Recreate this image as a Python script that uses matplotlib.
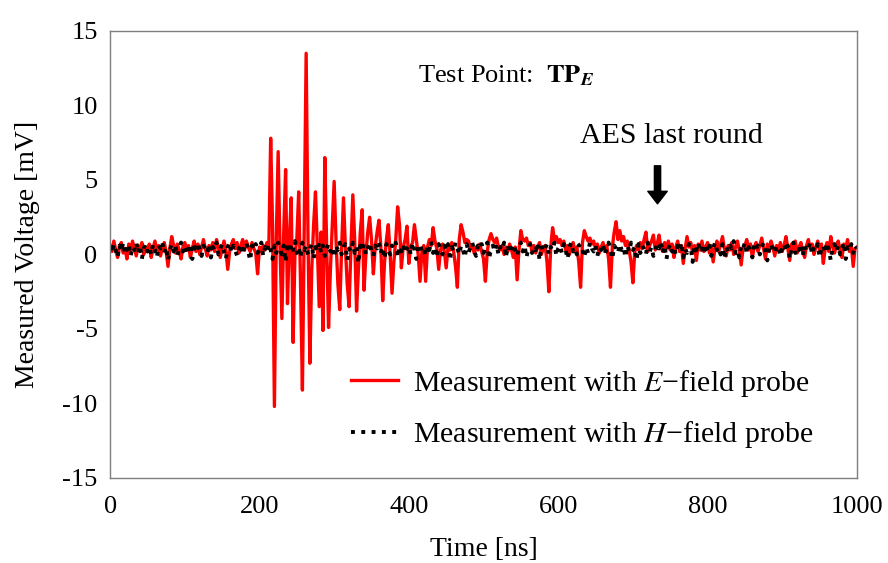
import numpy as np
import matplotlib
matplotlib.use("Agg")
import matplotlib.pyplot as plt

plt.rcParams['font.family'] = ['Liberation Serif', 'DejaVu Serif']
plt.rcParams['mathtext.fontset'] = 'stix'
plt.rcParams['axes.unicode_minus'] = False

# time axis [ns], one sample every 2.5 ns
t_ns = np.arange(0, 1000.01, 2.5)

# E-field probe (20 samples per row = 50 ns)
e_probe = [
    0.6, 0.2, 0.9, 0.3, -0.2, 0.5, 0.8, 0.1, 0.4, -0.3, 0.7, 0.2, 0.9, 0.4, -0.1, 0.6, 0.3, 0.8, 0.0, 0.5,
    0.2, 0.7, -0.2, 0.4, 0.9, 0.3, 0.6, -0.1, 0.5, 0.8, 0.2, -0.8, 0.4, 1.2, 0.6, 0.1, 0.7, 0.3, -0.3, 0.5,
    0.8, 0.3, 0.6, -0.2, 0.4, 0.9, 0.2, 0.7, 0.0, 0.5, 1.0, 0.4, -0.1, 0.6, 0.3, 0.8, 0.2, 1.0, 0.5, -0.2,
    0.4, 0.9, 0.3, -1.0, 0.2, 0.7, 1.0, 0.4, 0.8, 0.1, 0.6, 1.0, 0.3, 0.9, 0.5, 0.2, 0.8, 0.4, 0.1, -1.3,
    0.5, 0.2, 0.6, 0.3, 0.8, 0.4, 7.8, 2.0, -10.2, 1.0, 6.9, 0.5, -4.3, 1.5, 5.7, -3.3, 1.0, 3.8, -5.9, 0.0,
    1.0, 4.2, -2.0, -9.1, 2.0, 13.5, 1.0, -7.3, -1.0, 2.0, 4.2, 0.5, -3.5, 1.5, -5.1, 6.5, 0.5, -4.9, -1.0, 2.0,
    4.9, 1.0, -2.0, -3.7, 0.5, 3.8, 0.5, -2.0, -3.5, 0.5, 4.0, 1.0, -3.8, -1.0, 1.5, 3.0, -2.4, 0.0, 1.5, 2.5,
    1.0, -1.3, 0.5, 1.5, 2.3, 0.5, -3.1, -0.5, 1.0, 2.0, 0.0, -2.6, -0.5, 1.0, 3.2, 2.0, -0.9, 0.5, 1.0, 1.9,
    -0.6, 0.5, 0.8, 2.0, 1.0, 0.0, -1.8, 0.2, 0.6, -1.8, 0.5, 1.0, 0.6, 1.8, 0.9, 0.4, -1.0, 0.3, 0.7, 0.2,
    -0.9, 0.5, 0.3, 0.8, 0.2, -0.8, -2.2, 1.0, 2.0, 1.5, 0.8, 1.0, 0.9, 0.4, 0.6, 0.1, 0.5, 0.3, 0.7, 0.2,
    -0.3, -1.8, 0.2, 1.0, 1.4, 1.0, 0.8, 1.1, 0.5, 0.3, 0.6, 0.0, 0.5, 0.2, 0.7, 0.3, -0.2, 0.5, -1.7, 0.3,
    1.6, 1.0, 0.9, 1.1, 0.6, 0.8, 0.2, 0.6, 0.1, 0.5, 0.8, 0.0, 0.4, 0.6, -0.5, -2.5, 0.5, 1.8, 1.0, 1.2,
    0.8, 1.0, 0.6, 0.9, 0.3, 0.6, 0.0, 0.5, 0.8, 0.2, 0.5, -0.5, -2.2, 0.8, 1.6, 1.2, 0.9, 1.1, 0.7, 0.9,
    0.4, 0.7, 0.1, 0.5, 0.8, 0.2, 0.6, -0.3, -2.2, 0.5, 1.5, 2.2, 1.0, 1.6, 0.9, 1.2, 0.6, 0.9, 0.3, -0.5,
    -1.9, 0.2, 0.6, 0.3, 0.8, 0.4, 1.0, 1.5, 0.2, 0.6, 0.9, 1.3, 0.3, 0.7, 1.3, 0.5, 0.2, 0.8, 0.4, 0.9,
    0.3, 0.7, -0.2, 0.5, 0.9, 0.2, 0.6, -0.6, 0.4, 1.2, 0.5, 0.8, 0.1, 0.6, -0.4, 0.7, 0.3, 0.9, 0.2, 0.5,
    0.8, 0.1, 0.6, -0.5, 0.4, 0.9, 0.2, 0.7, 1.2, 0.4, -0.1, 0.6, 0.3, 0.8, 0.0, 0.5, 0.9, 0.3, -0.7, 0.4,
    0.6, 1.0, 0.3, 0.7, -0.2, 0.5, 0.8, 0.2, 0.6, 1.1, 0.4, -0.3, 0.7, 0.2, 0.9, 0.5, -0.1, 0.6, 0.3, 0.8,
    0.2, 0.6, 1.2, 0.4, -0.4, 0.7, 0.3, 0.9, 0.1, 0.5, 0.8, 0.2, -0.2, 0.6, 1.0, 0.4, 0.7, 0.0, 0.5, 0.9,
    0.3, 0.7, -0.6, 0.4, 0.8, 0.2, 1.2, 0.5, 0.1, 0.6, 0.9, 0.3, -0.2, 0.7, 0.4, 1.0, 0.2, 0.6, -0.8, 0.4,
    0.5,
]

# H-field probe
h_probe = [
    0.5, 0.1, 0.7, 0.3, -0.2, 0.6, 0.2, 0.8, 0.0, 0.4, 0.7, -0.1, 0.5, 0.3, 0.8, 0.1, 0.6, -0.3, 0.4, 0.7,
    0.2, 0.5, 0.0, 0.7, 0.3, -0.2, 0.6, 0.4, 0.8, 0.1, 0.5, -0.4, 0.3, 0.7, 0.2, 0.6, -0.1, 0.4, 0.8, 0.2,
    0.6, 0.0, 0.4, 0.7, -0.3, 0.5, 0.2, 0.8, 0.3, -0.1, 0.6, 0.4, 0.1, 0.7, -0.2, 0.5, 0.3, 0.8, 0.0, 0.4,
    0.7, 0.2, -0.3, 0.5, 0.8, 0.1, 0.6, 0.3, -0.1, 0.4, 0.7, 0.0, 0.5, 0.8, 0.2, -0.4, 0.6, 0.3, 0.7, 0.1,
    0.4, 0.8, -0.1, 0.5, 0.2, 0.7, 0.3, -0.3, 0.6, 0.1, 0.8, 0.4, 0.0, 0.6, -0.5, 0.5, 0.2, 0.7, 0.3, 0.9,
    0.1, 0.5, -0.2, 0.8, 0.3, 0.6, 0.0, 0.4, 0.7, -0.3, 0.5, 0.2, 0.8, 0.1, 0.6, -0.1, 0.4, 0.7, 0.2, 0.5,
    -0.2, 0.6, 0.3, 0.8, 0.0, 0.5, 0.7, -0.4, 0.4, 0.2, 0.8, 0.1, 0.5, -0.6, 0.6, 0.3, 0.7, 0.0, 0.4, 0.8,
    0.2, -0.1, 0.6, 0.4, 0.8, 0.1, 0.5, -0.3, 0.7, 0.3, 0.0, 0.6, 0.4, 0.8, -0.2, 0.5, 0.2, 0.7, 0.1, 0.4,
    0.6, 0.0, 0.8, 0.3, -0.3, 0.5, 0.7, 0.2, 0.4, -0.1, 0.6, 0.3, 0.9, 0.1, 0.5, -0.2, 0.7, 0.4, 0.0, 0.6,
    0.3, 0.7, -0.4, 0.5, 0.2, 0.8, 0.4, 0.0, 0.6, 0.3, -0.2, 0.7, 0.1, 0.5, 0.8, 0.2, -0.1, 0.6, 0.4, 0.7,
    0.1, 0.5, 0.8, -0.3, 0.4, 0.6, 0.2, 0.7, 0.0, 0.5, 0.3, 0.8, -0.2, 0.6, 0.1, 0.4, 0.7, 0.3, -0.1, 0.5,
    0.8, 0.2, 0.6, -0.2, 0.4, 0.7, 0.1, 0.5, 0.3, 0.8, -0.4, 0.6, 0.2, 0.4, 0.7, 0.0, 0.5, 0.3, 0.8, -0.1,
    0.4, 0.6, 0.1, 0.7, 0.3, -0.3, 0.5, 0.8, 0.2, 0.4, 0.0, 0.6, 0.7, 0.3, -0.2, 0.5, 0.1, 0.8, 0.4, 0.2,
    0.6, -0.1, 0.5, 0.3, 0.7, 0.0, 0.4, 0.8, 0.2, -0.3, 0.6, 0.4, 0.1, 0.7, 0.3, 0.5, -0.2, 0.6, 0.2, 0.8,
    0.3, 0.5, -0.4, 0.7, 0.1, 0.6, 0.4, 0.0, 0.8, 0.2, 0.5, -0.1, 0.3, 0.7, 0.4, 0.9, 0.1, 0.6, -0.3, 0.4,
    0.7, 0.2, 0.5, 0.0, 0.6, 0.3, 0.8, -0.2, 0.4, 0.1, 0.7, 0.5, -0.5, 0.6, 0.3, 0.8, 0.2, 0.4, 0.0, 0.7,
    0.2, 0.6, -0.1, 0.4, 0.8, 0.3, 0.5, 0.0, 0.7, -0.3, 0.5, 0.2, 0.6, 0.4, 0.9, 0.1, 0.3, -0.2, 0.6, 0.4,
    0.8, 0.1, 0.5, 0.3, -0.2, 0.7, 0.4, 0.6, 0.0, 0.5, 0.8, 0.2, -0.4, 0.4, 0.7, 0.3, 0.1, 0.6, 0.4, -0.1,
    0.5, 0.7, 0.2, 0.6, -0.3, 0.4, 0.8, 0.1, 0.5, 0.3, 0.7, -0.1, 0.6, 0.2, 0.4, 0.8, 0.0, 0.5, 0.3, 0.7,
    -0.2, 0.4, 0.6, 0.1, 0.8, 0.3, -0.4, 0.5, 0.7, 0.2, 0.6, 0.0, 0.4, 0.8, -0.3, 0.5, 0.3, 0.7, 0.1, 0.6,
    0.4,
]
assert len(e_probe) == len(t_ns) and len(h_probe) == len(t_ns)

x_ticks = [0, 200, 400, 600, 800, 1000]
y_ticks = [-15, -10, -5, 0, 5, 10, 15]

fig = plt.figure(figsize=(8.88, 5.63), dpi=100)
ax = fig.add_axes([0.124, 0.151, 0.841, 0.794])

ax.plot(t_ns, e_probe, color='#ff0000', lw=2.4,
        label='Measurement with $\\mathit{E}$\u2212field probe')
ax.plot(t_ns, h_probe, color='black', lw=2.8, ls=':',
        label='Measurement with $\\mathit{H}$\u2212field probe')

ax.set_xlim(0, 1000)
ax.set_ylim(-15, 15)
ax.set_xticks(x_ticks)
ax.set_yticks(y_ticks)
ax.tick_params(length=0, labelsize=19)
ax.tick_params(axis='x', pad=13)
ax.tick_params(axis='y', pad=9)
for s in ax.spines.values():
    s.set_color('#7f7f7f')
    s.set_linewidth(1.0)

ax.set_xlabel('Time [ns]', fontsize=20, labelpad=14)
ax.set_ylabel('Measured Voltage [mV]', fontsize=20, labelpad=16)

ax.text(531, 12.0, 'Test Point:  $\\mathbf{TP}_{\\mathbfit{E}}$', fontsize=19,
        ha='center', va='center')
ax.text(752, 7.95, 'AES last round', fontsize=21.5, ha='center', va='center')
ax.annotate('', xy=(733, 3.4), xytext=(733, 5.95),
            arrowprops=dict(facecolor='black', edgecolor='black', width=4.5,
                            headwidth=14, headlength=9, shrink=0))

leg = ax.legend(loc='upper left', bbox_to_anchor=(0.302, 0.28), frameon=False,
                fontsize=21.5, handlelength=1.6, handletextpad=0.5,
                labelspacing=0.68, borderpad=0)

fig.savefig('out.png', dpi=100)
